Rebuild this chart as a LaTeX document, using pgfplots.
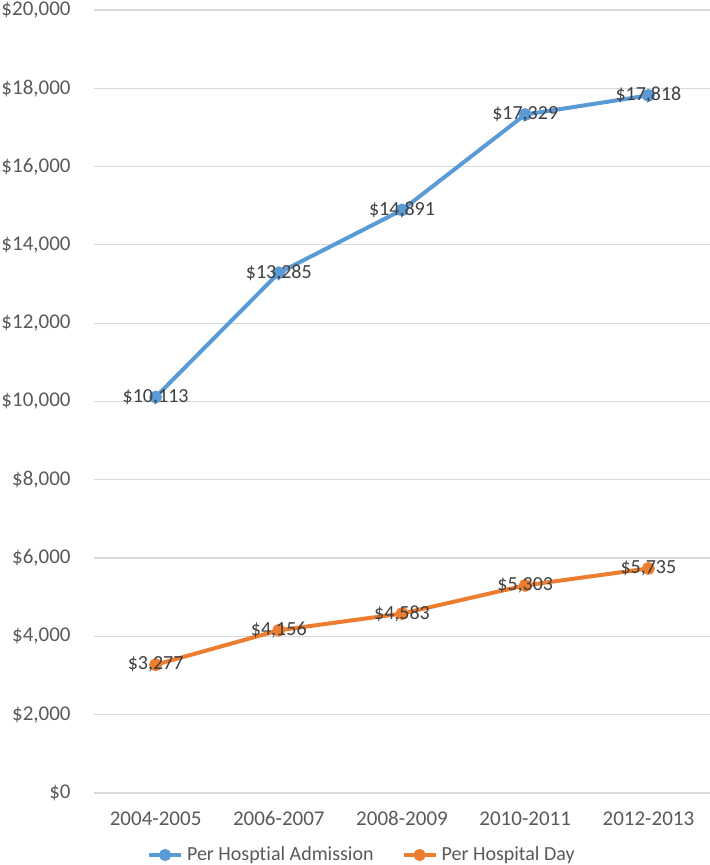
\documentclass[border=0pt]{standalone}
\usepackage{fontspec}
\setmainfont{Carlito}[Ligatures={NoCommon}]
\usepackage{pgfplots}
\pgfplotsset{compat=1.18}
\definecolor{adm}{RGB}{91,155,213}
\definecolor{day}{RGB}{237,125,49}
\definecolor{gridc}{RGB}{217,217,217}
\definecolor{txt}{RGB}{89,89,89}
\definecolor{lbl}{RGB}{64,64,64}

\pgfplotstableread{
x adm day
0 10113 3277
1 13285 4156
2 14891 4583
3 17329 5303
4 17818 5735
}\costs

\begin{document}
\begin{tikzpicture}
  \begin{axis}[
    name=ax,
    scale only axis,
    width=308pt,
    height=391.5pt,
    xmin=-0.5, xmax=4.5,
    ymin=0, ymax=20000,
    ytick distance=2000,
    xtick={0,1,2,3,4},
    xticklabels={2004-2005,2006-2007,2008-2009,2010-2011,2012-2013},
    axis line style={draw=none},
    major tick length=0pt,
    xmajorgrids=false,
    ymajorgrids=true,
    grid style={draw=gridc, line width=0.6pt},
    /pgf/number format/assume math mode=true,
    /pgf/number format/1000 sep={,},
    scaled y ticks=false,
    yticklabel={\$\pgfmathprintnumber{\tick}},
    tick label style={font=\fontsize{10.5}{12}\selectfont, text=txt},
    yticklabel style={anchor=east, inner sep=0pt, xshift=-11.5pt},
    xticklabel style={anchor=base, inner sep=0pt, yshift=-16pt},
    nodes near coords={\$\pgfmathprintnumber{\pgfplotspointmeta}},
    nodes near coords style={anchor=center, font=\fontsize{10}{12}\selectfont, text=lbl, inner sep=0pt},
    every node near coord/.append style={anchor=center},
    legend columns=2,
    legend style={
      at={([xshift=2pt, yshift=-31pt]axis description cs:0.43,0)},
      anchor=center, draw=none, fill=none,
      font=\fontsize{10}{12}\selectfont, text=txt,
      /tikz/every even column/.append style={column sep=12pt},
    },
    legend image code/.code={
      \draw[#1, mark=none] (0pt,0pt) -- (16pt,0pt);
      \fill[#1] (8pt,0pt) circle (2pt);
    },
  ]
    \addplot[adm, line width=2pt, mark=*, mark size=2.2pt, mark options={fill=adm, draw=adm}]
      table[x=x, y=adm] {\costs};
    \addlegendentry{Per Hosptial Admission}
    \addplot[day, line width=2pt, mark=*, mark size=2.2pt, mark options={fill=day, draw=day}]
      table[x=x, y=day] {\costs};
    \addlegendentry{Per Hospital Day}
  \end{axis}
  \pgfresetboundingbox
  \useasboundingbox ([shift={(-47pt,-36pt)}]ax.south west) rectangle ([yshift=5pt]ax.north east);
\end{tikzpicture}
\end{document}
